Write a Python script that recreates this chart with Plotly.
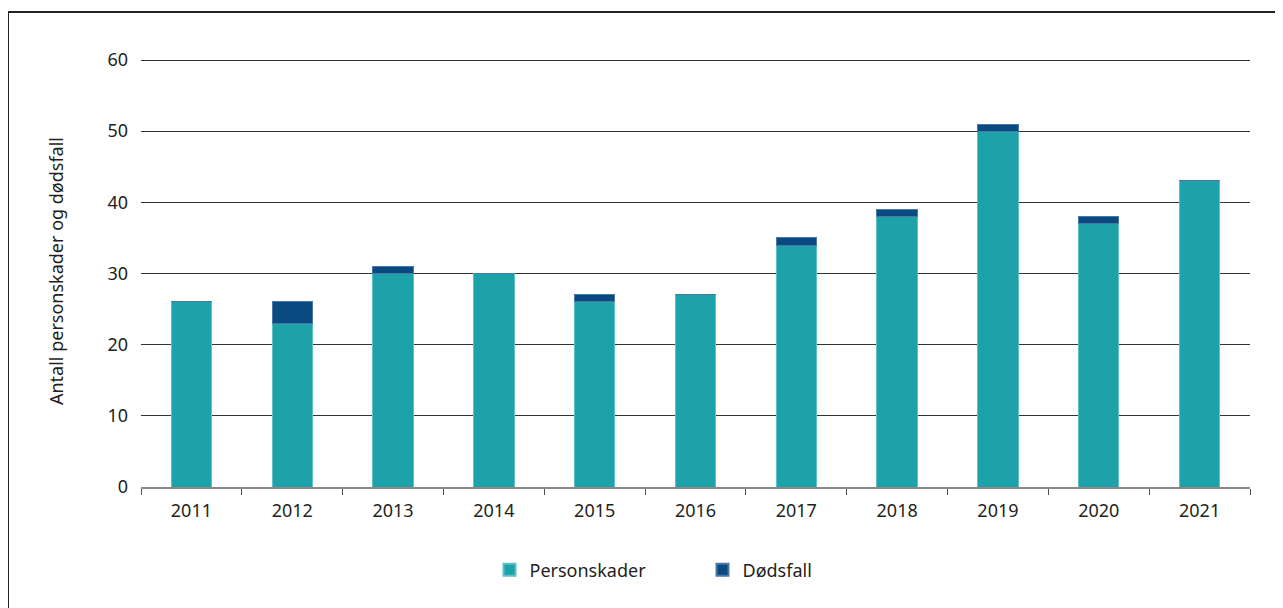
import plotly.graph_objects as go

years = ["2011", "2012", "2013", "2014", "2015", "2016", "2017", "2018", "2019", "2020", "2021"]
personskader = [26, 23, 30, 30, 26, 27, 34, 38, 50, 37, 43]
dodsfall = [0, 3, 1, 0, 1, 0, 1, 1, 1, 1, 0]

TEAL = "#1ea2aa"
NAVY = "#0b4a80"
FONT = "Noto Sans"

fig = go.Figure()
fig.add_trace(go.Bar(x=years, y=personskader, name="Personskader",
                     marker=dict(color=TEAL, line=dict(width=1, color="#5fc0c6"))))
fig.add_trace(go.Bar(x=years, y=dodsfall, name="Dødsfall",
                     marker=dict(color=NAVY, line=dict(width=1, color="#4a78a6"))))

# page body has an 8px margin; figure is sized/placed to compensate
OFF = 8
EXTRA = 5  # headroom above the 60 gridline so it is drawn
W, H = 1283 - OFF, 608 - OFF
L, T = 141 - OFF, 60 - OFF - EXTRA
R = W - (1250 - OFF)
B = H - (487 - OFF)
pw, ph = W - L - R, H - T - B
ymax = 60 * ph / (ph - EXTRA)

fig.update_layout(
    width=W, height=H,
    barmode="stack",
    bargap=0.6,
    plot_bgcolor="white", paper_bgcolor="white",
    margin=dict(l=L, r=R, t=T, b=B),
    font=dict(family=FONT, size=17, color="#231f20"),
    showlegend=True,
    legend=dict(orientation="h", x=0.5 + 7 / pw, xanchor="center", traceorder="normal",
                y=(487 - 570) / ph, yanchor="middle",
                font=dict(size=18), entrywidth=168, itemsizing="constant"),
    xaxis=dict(showline=True, linecolor="#8a8a8a", linewidth=2,
               ticks="outside", tickson="boundaries", ticklen=6, tickcolor="#555",
               tickfont=dict(size=18), showgrid=False, ticklabelstandoff=6),
    yaxis=dict(range=[0, ymax], tickvals=[0, 10, 20, 30, 40, 50, 60],
               showgrid=True, gridcolor="#333333", gridwidth=1,
               zeroline=False, ticks="", tickfont=dict(size=18), ticklabelstandoff=12,
               title=dict(text="Antall personskader og dødsfall", font=dict(size=18), standoff=39)),
    shapes=[dict(type="rect", xref="paper", yref="paper",
                 x0=(8 - OFF - L) / pw, x1=(W + 20 - L) / pw,
                 y0=-(B + 20) / ph, y1=1 + (T - (12 - OFF)) / ph,
                 line=dict(color="#222", width=2), fillcolor="rgba(0,0,0,0)")],
)

fig.write_html("out.html")
